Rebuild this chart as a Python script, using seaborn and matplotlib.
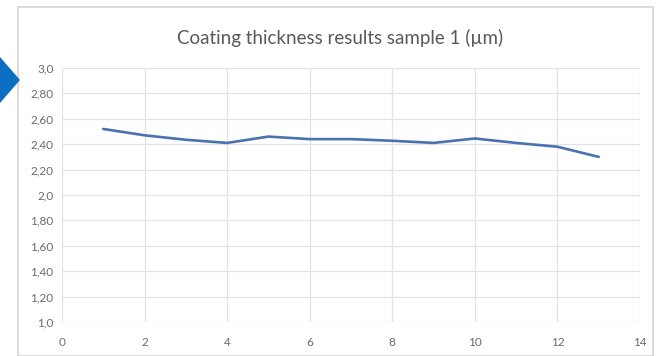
import matplotlib
matplotlib.use("Agg")
import matplotlib.pyplot as plt
import matplotlib.patches as mpatches
import seaborn as sns
import pandas as pd

# Data
measurement = [1, 2, 3, 4, 5, 6, 7, 8, 9, 10, 11, 12, 13]
thickness = [2.52, 2.47, 2.435, 2.41, 2.46, 2.44, 2.44, 2.427, 2.41, 2.445, 2.41, 2.38, 2.30]
y_ticks = [1.0, 1.2, 1.4, 1.6, 1.8, 2.0, 2.2, 2.4, 2.6, 2.8, 3.0]
y_tick_labels = ['1,0', '1,20', '1,40', '1,60', '1,80', '2,0', '2,20', '2,40', '2,60', '2,80', '3,0']
x_ticks = [0, 2, 4, 6, 8, 10, 12, 14]
title = "Coating thickness results sample 1 (\u00b5m)"

sns.set_theme(style="white")
plt.rcParams['font.family'] = ['Lato', 'DejaVu Sans']

W, H = 658, 356
fig = plt.figure(figsize=(W / 100, H / 100), dpi=100)
ax = fig.add_axes([62 / W, 1 - 322 / H, (640 - 62) / W, (322 - 68) / H])

df = pd.DataFrame({"x": measurement, "y": thickness})
sns.lineplot(data=df, x="x", y="y", ax=ax, color="#4a72b0", linewidth=1.9)

ax.set_xlim(0, 14)
ax.set_ylim(1.0, 3.0)
ax.set_xticks(x_ticks)
ax.set_xticklabels([str(t) for t in x_ticks])
ax.set_yticks(y_ticks)
ax.set_yticklabels(y_tick_labels)
ax.set_xlabel("")
ax.set_ylabel("")
ax.grid(True, color="#e3e3e3", linewidth=0.9)
for s in ax.spines.values():
    s.set_visible(False)
ax.tick_params(axis="both", length=0, labelsize=8.5, colors="#6b6b6b")
ax.tick_params(axis="y", pad=6)
ax.tick_params(axis="x", pad=11)

fig.text(340 / W, 1 - 38 / H, title, ha="center", va="center", fontsize=13.5, color="#595959")

# outer chart frame
frame = mpatches.Rectangle((18 / W, 0), (653 - 18) / W, 1 - 7 / H, transform=fig.transFigure,
                           fill=False, edgecolor="#d4d4d4", linewidth=1.2)
fig.patches.append(frame)

# blue arrow marker on the left
arrow = mpatches.Polygon([(0, 1 - 57 / H), (20 / W, 1 - 80 / H), (0, 1 - 103 / H)],
                         closed=True, transform=fig.transFigure, facecolor="#0a6fc2", edgecolor="none")
fig.patches.append(arrow)

fig.savefig("out.png", dpi=100)
